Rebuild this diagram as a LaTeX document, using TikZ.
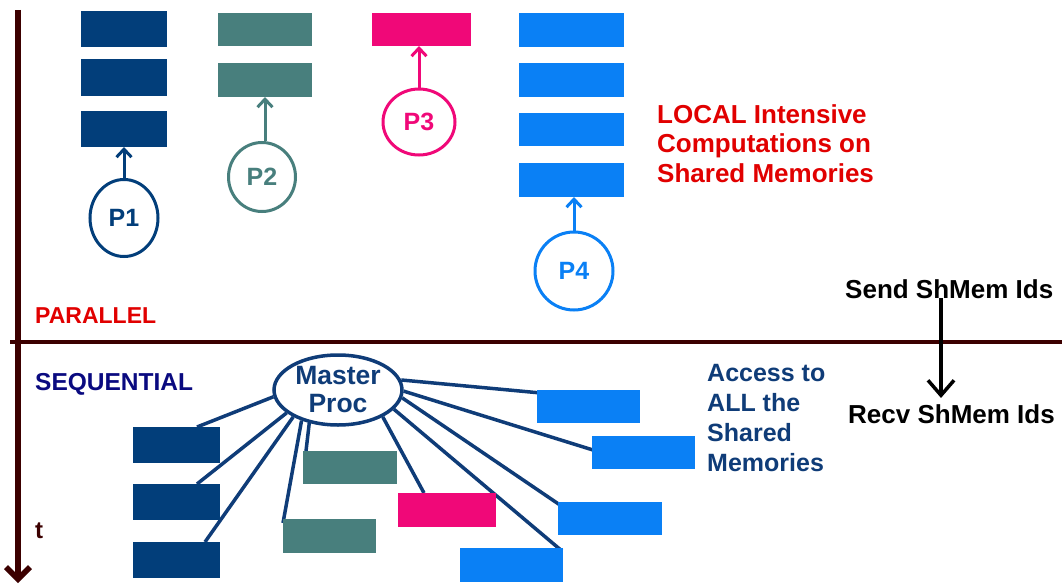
\documentclass[tikz,border=0pt]{standalone}
\usepackage{fontspec}
\setmainfont{Liberation Sans}
\usetikzlibrary{arrows.meta,shapes.geometric,calc,backgrounds}

\definecolor{axiscol}{RGB}{60,0,0}
\definecolor{navymem}{RGB}{2,62,122}
\definecolor{tealmem}{RGB}{72,127,125}
\definecolor{pinkmem}{RGB}{240,8,120}
\definecolor{bluemem}{RGB}{10,128,245}
\definecolor{redtxt}{RGB}{225,0,0}
\definecolor{seqtxt}{RGB}{10,10,128}
\definecolor{mastertxt}{RGB}{15,60,120}

\tikzset{
  mem/.style={rectangle, fill=#1, draw=none, inner sep=0pt, outer sep=0pt, anchor=north west},
  proc/.style={ellipse, draw=#1, text=#1, line width=3pt, inner sep=0pt,
    font=\bfseries\fontsize{25}{26}\selectfont},
  procarrow/.style={draw=#1, line width=3pt,
    -{Straight Barb[length=8pt,width=15pt,line width=3pt]}},
  timeaxis/.style={draw=axiscol, line width=5.5pt},
  bigtxt/.style={font=\bfseries\fontsize{26}{29.5}\selectfont, inner sep=0pt},
  spoke/.style={draw=mastertxt, line width=3.5pt}
}

\begin{document}
\begin{tikzpicture}[x=1pt,y=-1pt]
\useasboundingbox (0,0) rectangle (1062,586);
\begin{scope}[on background layer]
\fill[white] (0,0) rectangle (1062,586);
\end{scope}

% time axis and phase separator
\coordinate (ttop) at (18,10);
\coordinate (tbot) at (18,583);
\coordinate (hleft) at (10,342);
\coordinate (hright) at (1062,342);
\draw[timeaxis, line width=4.5pt] (hleft) -- (hright);
\draw[timeaxis, -{Straight Barb[length=12pt,width=24pt,line width=5.5pt]}] (ttop) -- (tbot);
\node[anchor=base west, inner sep=0pt, text=axiscol, font=\bfseries\fontsize{24}{26}\selectfont] (tlab) at (35,538) {t};

% phase labels
\node[anchor=base west, inner sep=0pt, text=redtxt, font=\bfseries\fontsize{23}{26}\selectfont] (par) at (35,323) {PARALLEL};
\node[anchor=base west, inner sep=0pt, text=seqtxt, font=\bfseries\fontsize{24.5}{26}\selectfont] (seq) at (35,390) {SEQUENTIAL};

% ---------- parallel phase: shared memories of each process ----------
\node[mem=navymem, minimum width=86pt, minimum height=36pt] (a1) at (81,11) {};
\node[mem=navymem, minimum width=86pt, minimum height=37pt] (a2) at (81,59) {};
\node[mem=navymem, minimum width=86pt, minimum height=36pt] (a3) at (81,111) {};

\node[mem=tealmem, minimum width=94pt, minimum height=33pt] (b1) at (218,13) {};
\node[mem=tealmem, minimum width=94pt, minimum height=34pt] (b2) at (218,63) {};

\node[mem=pinkmem, minimum width=99pt, minimum height=33pt] (c1) at (372,13) {};

\node[mem=bluemem, minimum width=105pt, minimum height=34pt] (d1) at (519,13) {};
\node[mem=bluemem, minimum width=105pt, minimum height=34pt] (d2) at (519,63) {};
\node[mem=bluemem, minimum width=105pt, minimum height=33pt] (d3) at (519,113) {};
\node[mem=bluemem, minimum width=105pt, minimum height=34pt] (d4) at (519,163) {};

% processes
\node[proc=navymem, minimum width=68pt, minimum height=77pt] (p1) at (124,218) {P1};
\node[proc=tealmem, minimum width=67pt, minimum height=69pt] (p2) at (262,177) {P2};
\node[proc=pinkmem, minimum width=72pt, minimum height=66pt] (p3) at (419,122) {P3};
\node[proc=bluemem, minimum width=78pt, minimum height=78pt] (p4) at (574,271) {P4};

\draw[procarrow=navymem] (p1.north) -- (p1.north |- a3.south);
\draw[procarrow=tealmem] (p2.north -| b2.south) -- (b2.south);
\draw[procarrow=pinkmem] (p3.north) -- (p3.north |- c1.south);
\draw[procarrow=bluemem] (p4.north) -- (p4.north |- d4.south);

\node[bigtxt, text=redtxt, anchor=north west, align=left] (local) at (657,104)
  {LOCAL Intensive\\Computations on\\Shared Memories};

% ---------- message between the phases ----------
\node[bigtxt, anchor=base west] (send) at (845,298) {Send ShMem Ids};
\node[bigtxt, anchor=base west] (recv) at (848,423) {Recv ShMem Ids};
\coordinate (msgx) at (941,0);
\draw[line width=3.5pt, -{Straight Barb[length=15pt,width=26pt,line width=3.5pt]}]
  (send.base -| msgx) -- ([yshift=6pt]recv.north -| msgx);

% ---------- sequential phase: master accesses all memories ----------
\node[ellipse, draw=mastertxt, text=mastertxt, line width=3.5pt, inner sep=0pt,
  minimum width=128pt, minimum height=70pt, align=center,
  font=\bfseries\fontsize{26.5}{28}\selectfont] (mp) at (338,390) {Master\\Proc};

\node[mem=navymem, minimum width=87pt, minimum height=36pt] (n1) at (133,427) {};
\node[mem=navymem, minimum width=87pt, minimum height=36pt] (n2) at (133,484) {};
\node[mem=navymem, minimum width=87pt, minimum height=36pt] (n3) at (133,542) {};
\node[mem=tealmem, minimum width=94pt, minimum height=33pt] (t1) at (303,451) {};
\node[mem=tealmem, minimum width=93pt, minimum height=34pt] (t2) at (283,519) {};
\node[mem=pinkmem, minimum width=98pt, minimum height=34pt] (m1) at (398,493) {};
\node[mem=bluemem, minimum width=103pt, minimum height=33pt] (q1) at (537,390) {};
\node[mem=bluemem, minimum width=103pt, minimum height=33pt] (q2) at (592,436) {};
\node[mem=bluemem, minimum width=104pt, minimum height=33pt] (q3) at (558,502) {};
\node[mem=bluemem, minimum width=103pt, minimum height=34pt] (q4) at (460,548) {};

% spokes from the master to every memory, kept behind the blocks
\begin{scope}[on background layer]
\draw[spoke] (mp.186) -- ($(n1.north west)+(64,0)$);
\draw[spoke] (mp.204) -- ($(n2.north west)+(64,0)$);
\draw[spoke] (mp.211) -- ($(n3.north west)+(72,0)$);
\draw[spoke] (mp.220) -- ($(t2.north west)+(0,4)$);
\draw[spoke] (mp.229) -- ($(t1.north west)+(3,0)$);
\draw[spoke] (mp.329) -- ($(m1.north west)+(26,0)$);
\draw[spoke] (mp.341) -- ($(q4.north east)+(-1,3)$);
\draw[spoke] (mp.353) -- ($(q3.north west)+(2,3)$);
\draw[spoke] (mp.359) -- ($(q2.north west)+(1,14)$);
\draw[spoke] (mp.9) -- ($(q1.north west)+(4,3)$);
\end{scope}

\node[font=\bfseries\fontsize{25}{29.7}\selectfont, inner sep=0pt, text=mastertxt,
  anchor=north west, align=left] (access) at (707,364.5)
  {Access to\\ALL the\\Shared\\Memories};

\end{tikzpicture}
\end{document}
